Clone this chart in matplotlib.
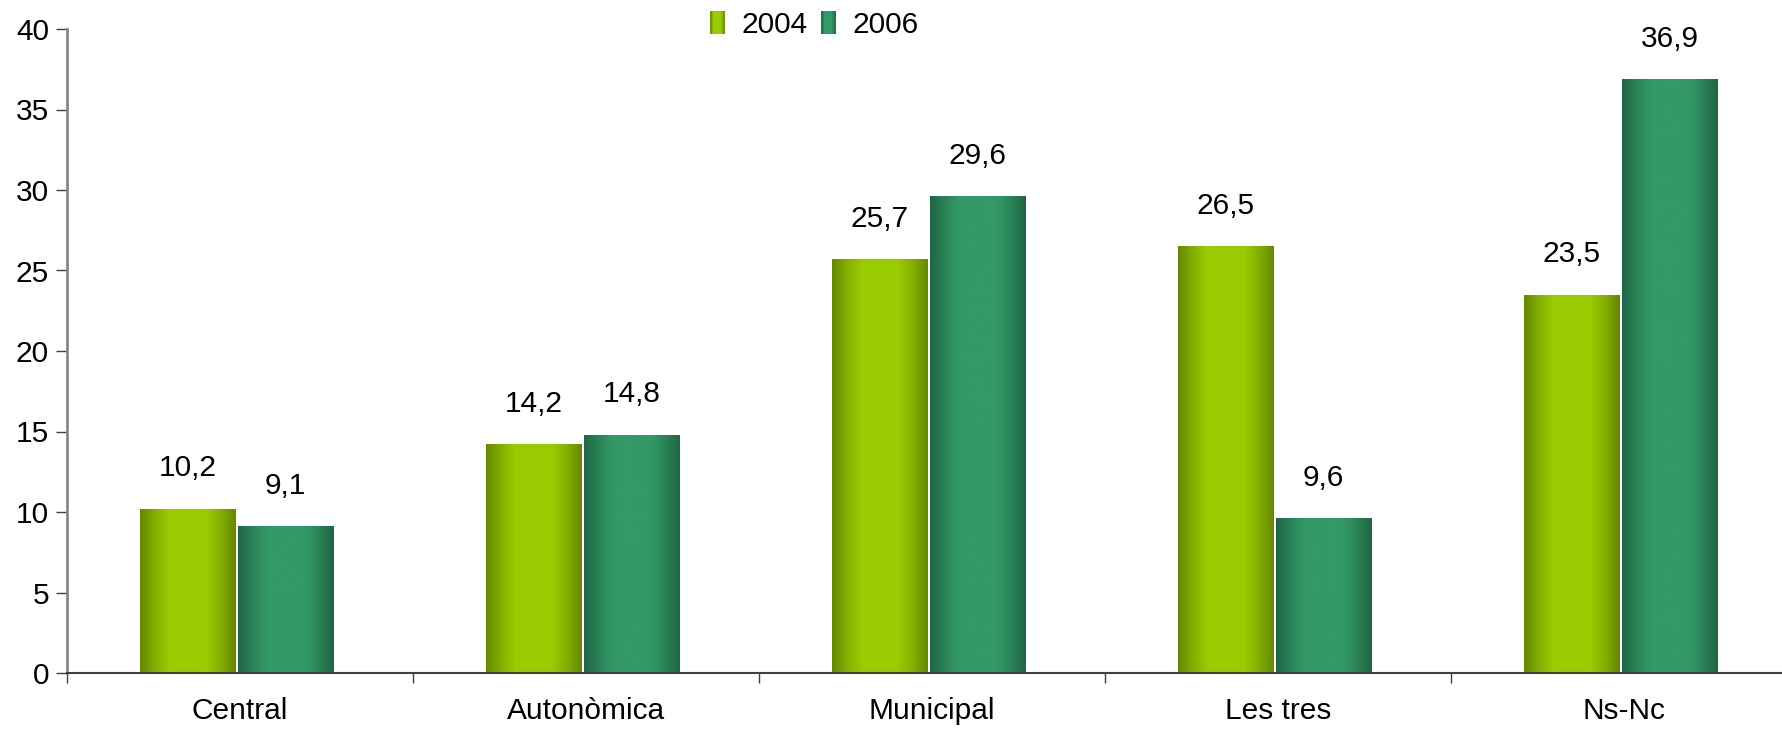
import numpy as np
import matplotlib
matplotlib.use("Agg")
import matplotlib.pyplot as plt
from matplotlib.colors import LinearSegmentedColormap
from matplotlib.legend_handler import HandlerBase
from matplotlib.patches import Rectangle

plt.rcParams['font.family'] = ['Liberation Sans', 'DejaVu Sans']

categories = ["Central", "Autonòmica", "Municipal", "Les tres", "Ns-Nc"]
years = ["2004", "2006"]
values_2004 = [10.2, 14.2, 25.7, 26.5, 23.5]
values_2006 = [9.1, 14.8, 29.6, 9.6, 36.9]

# dark edge / light centre of each series
colors = {"2004": ("#668800", "#99cc00"), "2006": ("#1f6645", "#339966")}


def make_cmap(pair):
    return LinearSegmentedColormap.from_list("g", [pair[0], pair[1]])


def profile(n=200):
    t = np.linspace(0, 1, n)
    return np.clip(np.sin(np.pi * t) * 1.2, 0, 1)


def gradient_bars(ax, xpos, vals, width, pair):
    bars = ax.bar(xpos, vals, width, facecolor="none", edgecolor="none")
    grad = profile().reshape(1, -1)
    cmap = make_cmap(pair)
    for b in bars:
        x, w, h = b.get_x(), b.get_width(), b.get_height()
        im = ax.imshow(grad, extent=[x, x + w, 0, h], aspect="auto",
                       cmap=cmap, vmin=0, vmax=1, zorder=2)
        im.set_clip_path(b)
    return bars


class GradientHandler(HandlerBase):
    def __init__(self, pair):
        super().__init__()
        self.pair = pair

    def create_artists(self, legend, orig_handle, xdescent, ydescent,
                       width, height, fontsize, trans):
        cmap = make_cmap(self.pair)
        n = 8
        prof = np.clip(np.sin(np.pi * (np.arange(n) + 0.5) / n) * 1.2, 0, 1)
        arts = []
        h = height * 1.2
        y0 = -ydescent - (h - height) / 2
        for i in range(n):
            r = Rectangle((-xdescent + i * width / n, y0), width / n + 0.05, h,
                          facecolor=cmap(prof[i]), edgecolor="none",
                          transform=trans)
            arts.append(r)
        return arts


fig = plt.figure(figsize=(17.82, 7.3), dpi=100)
ax = fig.add_axes([67 / 1782, 1 - 673 / 730, 1730 / 1782, (673 - 29) / 730])

x = np.arange(len(categories))
w = 0.277
shift = -0.01
x04 = x - w / 2 - 0.003 + shift
x06 = x + w / 2 + 0.003 + shift
gradient_bars(ax, x04, values_2004, w, colors["2004"])
gradient_bars(ax, x06, values_2006, w, colors["2006"])

for xs, vals in [(x04, values_2004), (x06, values_2006)]:
    for xi, v in zip(xs, vals):
        ax.annotate(f"{v:.1f}".replace(".", ","), (xi, v), xytext=(0, 19),
                    textcoords="offset points", ha="center", va="bottom",
                    fontsize=21.5)

ax.set_xlim(-0.5, len(categories) - 0.5)
ax.set_ylim(0, 40)
ax.set_yticks(np.arange(0, 41, 5))
ax.tick_params(axis="y", labelsize=21.5, length=8, width=1, color="#404040", pad=5)
ax.set_xticks(x)
ax.set_xticklabels(categories)
ax.tick_params(axis="x", which="major", length=0, labelsize=21.5, pad=17)
ax.set_xticks(np.arange(-0.5, len(categories) + 0.5, 1), minor=True)
ax.tick_params(axis="x", which="minor", length=7, width=1, color="#404040")

for s in ["top", "right"]:
    ax.spines[s].set_visible(False)
ax.spines["left"].set_color("#888888")
ax.spines["left"].set_linewidth(2)
ax.spines["bottom"].set_color("#404040")
ax.spines["bottom"].set_linewidth(1.5)

h1 = Rectangle((0, 0), 1, 1)
h2 = Rectangle((0, 0), 1, 1)
fig.legend([h1, h2], years, loc="center", bbox_to_anchor=(814 / 1782, 1 - 25 / 730),
           ncol=2, frameon=False, fontsize=21.5, handlelength=0.5, handleheight=0.6,
           handletextpad=0.55, columnspacing=0.45,
           handler_map={h1: GradientHandler(colors["2004"]), h2: GradientHandler(colors["2006"])})

fig.savefig("out.png", dpi=100)
